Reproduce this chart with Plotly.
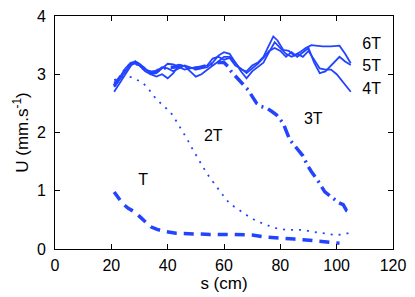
import plotly.graph_objects as go

BLUE = "#2244ff"

# ---- data ----
t1_x = [21, 22.5, 24, 26, 28.5, 30, 32, 34, 36, 39, 43, 48, 55, 62, 66, 70, 74, 78, 81, 85, 88, 92, 96, 99, 101]
t1_y = [0.98, 0.87, 0.78, 0.70, 0.63, 0.56, 0.46, 0.38, 0.34, 0.30, 0.27, 0.26, 0.25, 0.25, 0.25, 0.24, 0.21, 0.20, 0.19, 0.17, 0.16, 0.14, 0.12, 0.11, 0.10]

t2_x = [21, 24, 27, 29, 31, 33, 36, 38, 41, 43, 45, 47, 49, 50.5, 52, 54, 56, 58, 60, 62, 64.5, 67, 69, 72, 75, 77, 79, 82, 85, 88, 91, 94, 97, 99.5, 102, 105]
t2_y = [2.90, 2.95, 2.95, 2.90, 2.86, 2.76, 2.57, 2.48, 2.35, 2.20, 2.05, 1.88, 1.70, 1.58, 1.44, 1.29, 1.16, 1.04, 0.90, 0.78, 0.70, 0.61, 0.55, 0.47, 0.41, 0.38, 0.35, 0.33, 0.33, 0.33, 0.30, 0.28, 0.26, 0.24, 0.25, 0.28]

t3_x = [21, 23, 25, 27, 28.5, 30, 32, 34, 36, 38, 40, 42, 44, 46, 48, 50, 52, 54, 56, 58, 60, 61.5, 62.7, 64.5, 66.3, 68.6, 70, 71.6, 73, 75.2, 77, 78.7, 81, 83.4, 85, 87, 88, 89.5, 91, 93.5, 95.8, 98.8, 100.5, 102.3, 103.5, 105]
t3_y = [2.80, 2.95, 3.08, 3.18, 3.20, 3.15, 3.08, 3.02, 3.05, 3.10, 3.12, 3.12, 3.15, 3.12, 3.10, 3.10, 3.12, 3.15, 3.18, 3.20, 3.20, 3.13, 3.04, 2.94, 2.84, 2.73, 2.62, 2.50, 2.45, 2.42, 2.36, 2.30, 2.16, 1.87, 1.78, 1.66, 1.60, 1.45, 1.33, 1.16, 0.98, 0.87, 0.80, 0.76, 0.66, 0.62]

t4_x = [21, 23, 25, 27, 28.5, 30, 32, 34, 36, 38, 40, 42, 44, 46, 48, 50, 52, 54, 56, 58, 60, 62, 64, 66, 68, 70, 72, 74, 76, 78, 80, 82, 84, 86, 88, 90, 92, 94, 96, 98, 100, 102, 103, 105]
t4_y = [2.70, 2.85, 3.00, 3.15, 3.22, 3.18, 3.10, 3.00, 2.96, 3.00, 2.93, 3.02, 3.16, 3.14, 3.05, 2.96, 3.00, 3.08, 3.15, 3.22, 3.30, 3.30, 3.20, 3.05, 2.93, 3.05, 3.12, 3.20, 3.38, 3.55, 3.45, 3.35, 3.30, 3.35, 3.30, 3.40, 3.25, 3.10, 3.08, 3.08, 3.00, 2.88, 2.80, 2.70]

t5_x = [21, 23, 25, 27, 28.5, 30, 32, 34, 36, 38, 40, 42, 44, 46, 48, 50, 52, 54, 56, 58, 60, 62, 64, 66, 68, 70, 72, 74, 76, 78, 80, 82, 84, 86, 88, 90, 92, 94, 96, 98, 100, 101, 103, 105]
t5_y = [2.78, 2.92, 3.05, 3.18, 3.22, 3.15, 3.05, 3.00, 3.02, 3.10, 3.18, 3.17, 3.12, 3.08, 3.10, 3.12, 3.12, 3.15, 3.27, 3.30, 3.25, 3.28, 3.15, 3.10, 3.02, 3.10, 3.18, 3.28, 3.40, 3.45, 3.40, 3.30, 3.38, 3.30, 3.38, 3.45, 3.20, 3.02, 3.05, 3.15, 3.25, 3.30, 3.22, 3.16]

t6_x = [21, 23, 25, 27, 28.5, 30, 32, 34, 36, 38, 40, 42, 44, 46, 48, 50, 52, 54, 56, 58, 60, 62, 64, 66, 68, 70, 72, 74, 76, 77.5, 79, 81, 83, 85, 87, 89, 91, 95, 98, 101, 103, 105]
t6_y = [2.85, 2.95, 3.10, 3.20, 3.20, 3.15, 3.08, 3.05, 3.05, 3.12, 3.10, 3.05, 3.10, 3.15, 3.12, 3.08, 3.10, 3.12, 3.20, 3.32, 3.38, 3.35, 3.20, 3.08, 3.05, 3.15, 3.20, 3.30, 3.50, 3.65, 3.58, 3.42, 3.40, 3.32, 3.38, 3.45, 3.50, 3.48, 3.48, 3.49, 3.35, 3.19]

labels = ["T", "2T", "3T", "4T", "5T", "6T"]
label_x = [31.3, 56.2, 91.7, 112.4, 112.4, 112.4]
label_y = [1.16, 1.93, 2.21, 2.73, 3.13, 3.50]

x_ticks = [0, 20, 40, 60, 80, 100, 120]
y_ticks = [0, 1, 2, 3, 4]

FONT = "Liberation Sans, Arial, sans-serif"

fig = go.Figure()
styles = [
    (t1_x, t1_y, dict(color=BLUE, width=3.5, dash="10px,7px")),
    (t2_x, t2_y, dict(color=BLUE, width=1.8, dash="2px,6px")),
    (t3_x, t3_y, dict(color=BLUE, width=3.5, dash="12px,5px,2px,5px")),
    (t4_x, t4_y, dict(color=BLUE, width=1.8)),
    (t5_x, t5_y, dict(color=BLUE, width=1.8)),
    (t6_x, t6_y, dict(color=BLUE, width=1.8)),
]
for xs, ys, ln in styles:
    fig.add_trace(go.Scatter(x=xs, y=ys, mode="lines", line=ln, showlegend=False, hoverinfo="skip"))

fig.add_trace(go.Scatter(x=label_x, y=label_y, mode="text", text=labels,
                         textfont=dict(size=16, color="black", family=FONT),
                         showlegend=False, cliponaxis=False, hoverinfo="skip"))

axis_common = dict(
    showgrid=False, zeroline=False, showline=True, linecolor="black", linewidth=1,
    mirror="ticks", ticks="inside", ticklen=5, tickcolor="black", tickwidth=1,
    tickfont=dict(size=16, color="black", family=FONT),
)
fig.update_xaxes(range=[0, 120], tickvals=x_ticks, ticktext=[str(v) for v in x_ticks],
                 title=dict(text="s (cm)", standoff=3, font=dict(size=17, color="black", family=FONT)),
                 ticklabelstandoff=2, **axis_common)
fig.update_yaxes(range=[0, 4], tickvals=y_ticks, ticktext=[str(v) for v in y_ticks],
                 title=dict(text="U (mm.s<sup>-1</sup>)", standoff=3, font=dict(size=17, color="black", family=FONT)),
                 ticklabelstandoff=5, **axis_common)

fig.update_layout(
    width=415, height=297,
    margin=dict(l=55, r=22, t=16, b=48, autoexpand=False),
    plot_bgcolor="white", paper_bgcolor="white",
    font=dict(family=FONT, color="black"),
)
fig.write_html("out.html", config={"displayModeBar": False})

# remove the browser's default body margin so the figure sits at the window origin
with open("out.html", "r", encoding="utf-8") as f:
    html = f.read()
html = html.replace("<head>", "<head><style>html,body{margin:0;padding:0;overflow:hidden;}</style>", 1)
with open("out.html", "w", encoding="utf-8") as f:
    f.write(html)
